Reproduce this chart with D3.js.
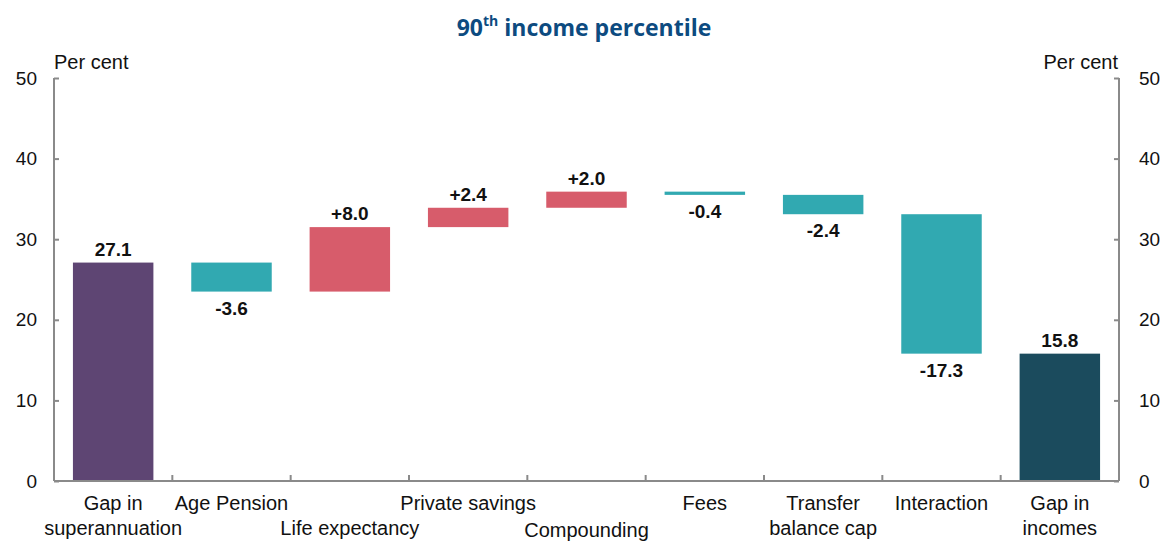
<!DOCTYPE html>
<html><head><meta charset="utf-8">
<script src="https://cdn.jsdelivr.net/npm/d3@7"></script>
<style>body{margin:0;background:#fff}svg{display:block}</style>
</head><body>
<svg id="c" width="1163" height="542"></svg>
<script>
const categories = ["Gap in superannuation","Age Pension","Life expectancy","Private savings","Compounding","Fees","Transfer balance cap","Interaction","Gap in incomes"];
const labelLines = [["Gap in","superannuation"],["Age Pension"],["Life expectancy"],["Private  savings"],["Compounding"],["Fees"],["Transfer","balance cap"],["Interaction"],["Gap in","incomes"]];
const labelRow = [0,0,1,0,1.08,0,0,0,0];
const values = [27.1,-3.6,8.0,2.4,2.0,-0.4,-2.4,-17.3,15.8];
const kinds = ["total","delta","delta","delta","delta","delta","delta","delta","total"];
const valueLabels = ["27.1","-3.6","+8.0","+2.4","+2.0","-0.4","-2.4","-17.3","15.8"];
const yTicks = [0,10,20,30,40,50];

const svg = d3.select("#c");
const L = 54, R = 1119, T = 78, B = 481;
const FF = "Liberation Sans, Arial, sans-serif";
const x = d3.scaleBand().domain(categories).range([L,R]).paddingInner(0.32).paddingOuter(0.16);
const y = d3.scaleLinear().domain([0,50]).range([B,T]);

let run = 0;
const bars = values.map((v,i)=>{
  let y0,y1;
  if(kinds[i]==="total"){ y0=0; y1=v; run=v; }
  else { y0=run; y1=run+v; run=y1; }
  return {cat:categories[i], v, y0, y1, kind:kinds[i], label:valueLabels[i], i};
});
const color = d => d.kind==="total" ? (d.i===0?"#5e4573":"#1b4b5d") : (d.v>0?"#d75c6b":"#31a9b1");

svg.append("text").attr("x",584).attr("y",36).attr("text-anchor","middle")
  .attr("font-family","Open Sans, sans-serif").attr("font-weight","bold").attr("font-size",23).attr("fill","#0d4b80")
  .call(t=>{t.append("tspan").text("90");t.append("tspan").attr("font-size",14).attr("dy",-10).text("th");t.append("tspan").attr("dy",10).text(" income percentile");});

svg.selectAll("rect.bar").data(bars).enter().append("rect")
  .attr("x",d=>x(d.cat)).attr("width",x.bandwidth())
  .attr("y",d=>y(Math.max(d.y0,d.y1))).attr("height",d=>Math.abs(y(d.y0)-y(d.y1)))
  .attr("fill",color);

svg.selectAll("text.val").data(bars).enter().append("text")
  .attr("x",d=>x(d.cat)+x.bandwidth()/2)
  .attr("y",d=> (d.kind==="total"||d.v>0) ? y(Math.max(d.y0,d.y1))-7 : y(Math.min(d.y0,d.y1))+23)
  .attr("text-anchor","middle").attr("font-family",FF)
  .attr("font-weight","bold").attr("font-size",19).attr("fill","#111").text(d=>d.label);

const axStyle = g=>{g.selectAll("path,line").attr("stroke","#8a8a8a").attr("stroke-width",2);
  g.selectAll("text").attr("font-family",FF).attr("font-size",19).attr("fill","#111");};
svg.append("g").attr("transform",`translate(${L},0)`)
  .call(d3.axisLeft(y).tickValues(yTicks).tickSize(-5).tickPadding(17)).call(axStyle)
  .call(g=>g.select(".domain").remove());
svg.append("g").attr("transform",`translate(${R},0)`)
  .call(d3.axisRight(y).tickValues(yTicks).tickSize(-5).tickPadding(20)).call(axStyle)
  .call(g=>g.select(".domain").remove());
[[L,L,T,B],[R,R,T,B],[L,R,B,B]].forEach(([x1,x2,y1,y2])=>svg.append("line").attr("x1",x1).attr("x2",x2).attr("y1",y1).attr("y2",y2).attr("stroke","#8a8a8a").attr("stroke-width",2));
const step = x.step();
const bounds = categories.slice(1).map(c=>x(c)-(step-x.bandwidth())/2);
svg.selectAll("line.bt").data(bounds).enter().append("line")
  .attr("x1",d=>d).attr("x2",d=>d).attr("y1",B).attr("y2",B-6).attr("stroke","#8a8a8a").attr("stroke-width",2);

svg.append("text").attr("x",54).attr("y",69).attr("font-family",FF).attr("font-size",20).attr("fill","#111").text("Per cent");
svg.append("text").attr("x",1118).attr("y",69).attr("text-anchor","end").attr("font-family",FF).attr("font-size",20).attr("fill","#111").text("Per cent");

const cl = svg.selectAll("text.cat").data(categories).enter().append("text")
  .attr("x",d=>x(d)+x.bandwidth()/2).attr("y",(d,i)=>510+labelRow[i]*25)
  .attr("text-anchor","middle").attr("font-family",FF).attr("font-size",20).attr("fill","#111");
cl.each(function(d,i){
  const t=d3.select(this);
  labelLines[i].forEach((s,j)=>t.append("tspan").attr("x",x(d)+x.bandwidth()/2).attr("dy",j?25:0).text(s));
});
</script>
</body></html>
